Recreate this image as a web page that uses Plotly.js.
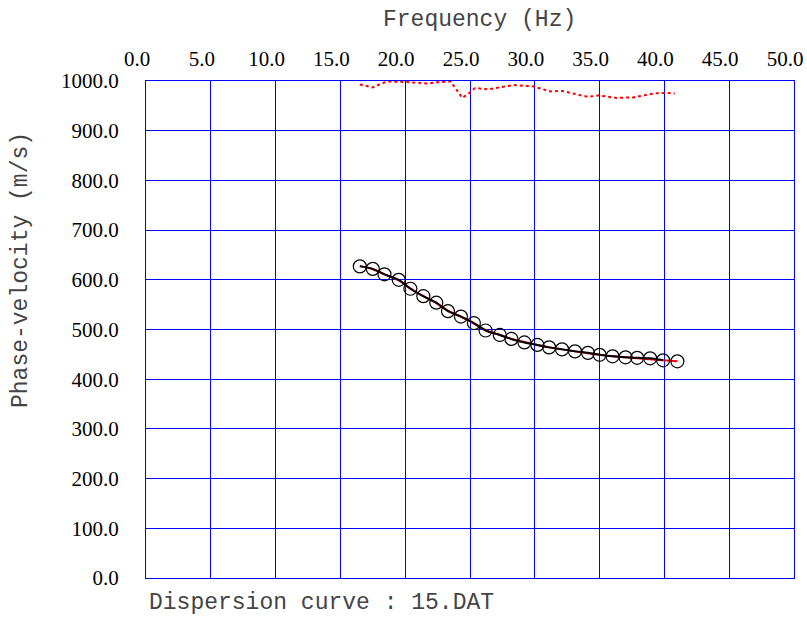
<!DOCTYPE html>
<html>
<head>
<meta charset="utf-8">
<script src="https://cdn.plot.ly/plotly-3.0.1.min.js"></script>
<style>html,body{margin:0;padding:0;background:#fff;}#chart{width:807px;height:617px;}</style>
</head>
<body>
<div id="chart"></div>
<script>
// Observed dispersion data (frequency Hz, phase velocity m/s)
const freq = [16.5, 17.5, 18.4, 19.5, 20.4, 21.4, 22.4, 23.3, 24.3, 25.3, 26.2, 27.3, 28.2,
              29.2, 30.2, 31.1, 32.1, 33.1, 34.1, 35.0, 36.0, 37.0, 37.9, 38.9, 39.9, 41.0];
const velocity = [627, 622, 611, 600, 582, 567, 554, 537, 526, 513, 498, 489, 481,
                  474, 469, 464, 460, 456, 453, 449, 446, 444, 443, 442, 438, 436];
// Theoretical (fitted) curve
const fitVelocity = [628, 621, 611, 599, 583, 567, 553, 538, 526, 512, 499, 489, 481,
                     475, 469, 464, 460, 456, 452, 449, 446, 444, 442, 440, 438, 436];
// Upper red dotted curve
const upperFreq = [16.5, 17.5, 18.0, 18.6, 20.1, 21.7, 22.7, 23.5, 24.0, 24.4, 24.9, 25.4, 26.4,
                   28.4, 29.9, 31.2, 32.1, 34.1, 34.9, 36.3, 37.6, 39.2, 40.1, 40.8];
const upperVel = [993, 987, 993, 999, 998, 995, 998, 999, 981, 966, 975, 986, 983,
                  992, 989, 979, 980, 968, 971, 966, 967, 975, 976, 975];

const xTicks = [0, 5, 10, 15, 20, 25, 30, 35, 40, 45, 50];
const yTicks = [0, 100, 200, 300, 400, 500, 600, 700, 800, 900, 1000];

const L = 146, T = 81, B = 39, R = 13;
const mono = 'Liberation Mono';
const serif = 'Liberation Serif';

const traces = [
  {x: upperFreq, y: upperVel, mode: 'lines', line: {color: '#ff0000', width: 2, dash: 'dot'}, hoverinfo: 'skip'},
  {x: freq, y: fitVelocity, mode: 'lines', line: {color: '#ff0000', width: 2, shape: 'spline'}, hoverinfo: 'skip'},
  {x: freq.slice(0, 25), y: velocity.slice(0, 25), mode: 'lines', line: {color: '#000000', width: 2, shape: 'spline'}, hoverinfo: 'skip'},
  {x: freq, y: velocity, mode: 'markers', marker: {symbol: 'circle-open', size: 13, color: '#000', line: {width: 1.2, color: '#000'}}}
];

const layout = {
  width: 807, height: 617,
  margin: {l: L, r: R, t: T, b: B, pad: 0},
  paper_bgcolor: '#fff', plot_bgcolor: '#fff',
  showlegend: false,
  xaxis: {
    side: 'top', range: [0, 50], tickvals: xTicks, ticktext: xTicks.map(v => v.toFixed(1)),
    showgrid: true, gridcolor: '#0000ff', gridwidth: 1,
    showline: true, linecolor: '#0000ff', linewidth: 1, mirror: true,
    zeroline: false, ticks: '', ticklabelstandoff: 6, ticklabelshift: -9,
    tickfont: {family: serif, size: 21, color: '#000'}
  },
  yaxis: {
    range: [0, 1000], tickvals: yTicks, ticktext: yTicks.map(v => v.toFixed(1)),
    showgrid: true, gridcolor: '#0000ff', gridwidth: 1,
    showline: true, linecolor: '#0000ff', linewidth: 1, mirror: true,
    zeroline: false, ticks: '', ticklabelstandoff: 22,
    tickfont: {family: serif, size: 21, color: '#000'}
  },
  annotations: [
    {text: 'Frequency (Hz)', xref: 'paper', yref: 'paper', x: 0, y: 1, xshift: 479 - L, yshift: T - 20,
     xanchor: 'center', yanchor: 'middle', showarrow: false, font: {family: mono, size: 23, color: '#444'}},
    {text: 'Phase-velocity (m/s)', xref: 'paper', yref: 'paper', x: 0, y: 1, xshift: 21 - L, yshift: T - 270,
     xanchor: 'center', yanchor: 'middle', textangle: -90, showarrow: false, font: {family: mono, size: 23, color: '#444'}},
    {text: 'Dispersion curve : 15.DAT', xref: 'paper', yref: 'paper', x: 0, y: 0, xshift: 1, yshift: -25,
     xanchor: 'left', yanchor: 'middle', showarrow: false, font: {family: mono, size: 23, color: '#444'}},
    {text: 'Vs30 = 416.510 m/s', xref: 'paper', yref: 'paper', x: 0, y: 1, xshift: 157 - L, yshift: T - 5,
     xanchor: 'right', yanchor: 'bottom', showarrow: false, font: {family: 'Liberation Sans', size: 20, color: '#000'}}
  ]
};

Plotly.newPlot('chart', traces, layout, {staticPlot: true, displayModeBar: false});
</script>
</body>
</html>
